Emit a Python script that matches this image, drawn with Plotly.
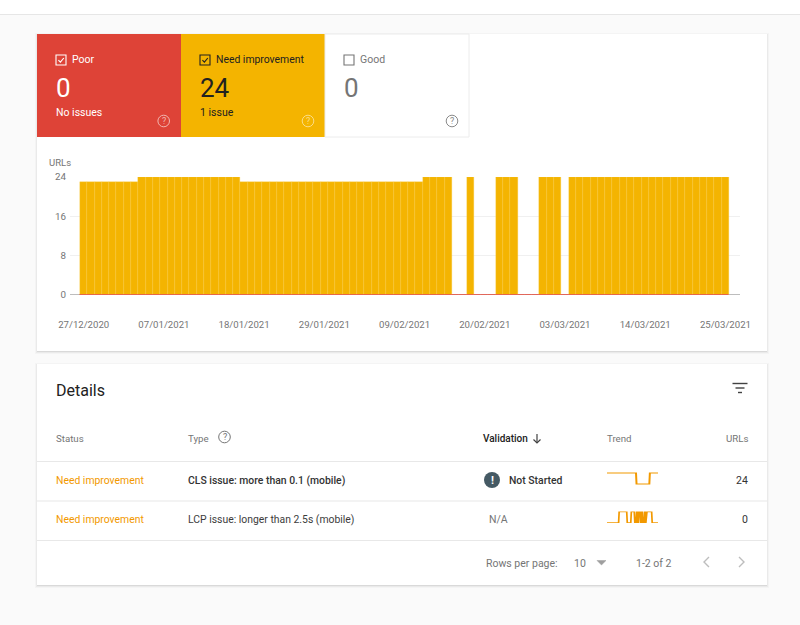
import pandas as pd
import plotly.graph_objects as go

W, H = 800, 625
dates = pd.date_range("2020-12-27", "2021-03-25", freq="D")
need_improvement = [
    23, 23, 23, 23, 23, 23, 23, 23,
    24, 24, 24, 24, 24, 24, 24, 24, 24, 24, 24, 24, 24, 24,
    23, 23, 23, 23, 23, 23, 23, 23, 23, 23, 23, 23, 23, 23, 23, 23, 23, 23, 23, 23, 23, 23, 23, 23, 23,
    24, 24, 24, 24,
    None, None,
    24,
    None, None, None,
    24, 24, 24,
    None, None, None,
    24, 24, 24,
    None,
    24, 24, 24, 24, 24, 24, 24, 24, 24, 24, 24, 24, 24, 24, 24, 24, 24, 24, 24, 24, 24, 24,
]
poor = [
    0, 0, 0, 0, 0, 0, 0, 0, 0, 0, 0, 0, 0, 0, 0, 0, 0, 0, 0, 0, 0, 0, 0, 0, 0, 0, 0, 0, 0, 0,
    0, 0, 0, 0, 0, 0, 0, 0, 0, 0, 0, 0, 0, 0, 0, 0, 0, 0, 0, 0, 0, 0, 0, 0, 0, 0, 0, 0, 0, 0,
    0, 0, 0, 0, 0, 0, 0, 0, 0, 0, 0, 0, 0, 0, 0, 0, 0, 0, 0, 0, 0, 0, 0, 0, 0, 0, 0, 0, 0,
]
annotation_dates = ["2021-02-17", "2021-03-15"]
annotation_counts = ["1", "1"]
annotation_level = [-2.25, -2.25]
y_ticks = [0, 8, 16, 24]
trend_cls = [
    1, 1, 1, 1, 1, 1, 1, 1, 1, 1, 1, 1, 1, 1, 1, 1, 1, 1, 1, 1, 1, 1, 1, 1, 1, 1, 1, 1, 1, 1,
    1, 1, 1, 1, 1, 1, 1, 1, 1, 1, 1, 1, 1, 1, 1, 1, 1, 1, 1, 1, 1,
    0, 0, 0, 0, 0, 0, 0, 0, 0, 0, 0, 0, 0, 0, 0, 0, 0, 0, 0, 0, 0, 0, 0,
    1, 1, 1, 1, 1, 1, 1, 1, 1, 1, 1, 1, 1, 1, 1,
]
trend_lcp = [
    0, 0, 0, 0, 0, 0, 0, 0, 0, 0, 0, 0, 0, 0, 0, 0, 0, 0, 0, 0, 0,
    1, 1, 1, 1, 1, 1, 1, 1, 1, 1, 1, 1, 1, 1,
    0, 0, 0, 0, 0, 0, 0,
    1, 1, 1, 1,
    1, 1, 0, 0, 0, 1, 1, 0, 0, 1, 1, 1, 0, 0, 1, 1, 0, 0, 0, 1, 1, 0, 1,
    1, 1, 1, 1, 1, 1, 1, 1, 1,
    0, 0, 0, 0, 0, 0, 0, 0, 0, 0, 0,
]

FONT = "Roboto"
GOLD = "#f4b400"
RED = "#de4337"
ORANGE = "#f29900"
GREY = "#757575"
DARK = "#212121"


def px(x):
    return x / W


def py(y):
    return 1 - y / H


shapes = []
annotations = []


def rect(x0, y0, x1, y1, fill="rgba(0,0,0,0)", line=None, lw=1, layer="below"):
    shapes.append(dict(type="rect", xref="paper", yref="paper", x0=px(x0), x1=px(x1), y0=py(y0), y1=py(y1),
                       fillcolor=fill, line=dict(color=line or "rgba(0,0,0,0)", width=lw if line else 0), layer=layer))


def circle(cx, cy, r, fill="rgba(0,0,0,0)", line=None, lw=1):
    shapes.append(dict(type="circle", xref="paper", yref="paper", x0=px(cx - r), x1=px(cx + r), y0=py(cy - r), y1=py(cy + r),
                       fillcolor=fill, line=dict(color=line or "rgba(0,0,0,0)", width=lw if line else 0), layer="above"))


def poly(points, color, lw=1.2, fill=None):
    d = "M" + " L".join(f"{px(a):.5f},{py(b):.5f}" for a, b in points)
    if fill:
        d += " Z"
    shapes.append(dict(type="path", xref="paper", yref="paper", path=d, line=dict(color=color, width=lw),
                       fillcolor=fill or "rgba(0,0,0,0)", layer="above"))


def text(x, y, s, size=11, color=DARK, anchor="left", weight=None):
    annotations.append(dict(xref="paper", yref="paper", x=px(x), y=py(y), text=s, showarrow=False, xanchor=anchor,
                            yanchor="middle", font=dict(family=FONT, size=size, color=color, weight=weight or 400),
                            borderpad=0, borderwidth=0))


def card(x0, y0, x1, y1):
    for off, alpha in ((3, 0.025), (2, 0.04), (1, 0.07)):
        rect(x0 - off + 1, y0 - off + 2, x1 + off - 1, y1 + off, "rgba(0,0,0,%s)" % alpha)
    rect(x0, y0, x1, y1, "#ffffff")


def help_icon(cx, cy, color):
    circle(cx, cy, 5.8, line=color, lw=1)
    text(cx, cy, "?", 9, color, "center")


def checkbox(x, y, color, checked):
    rect(x, y, x + 10, y + 10, line=color, lw=1.1, layer="above")
    if checked:
        poly([(x + 2.4, y + 5.2), (x + 4.4, y + 7.2), (x + 7.8, y + 3)], color, 1.1)


# page chrome
rect(0, 0, 800, 14, "#ffffff")
rect(0, 14, 800, 15, "#e6e6e6")

# cards
card(37, 34, 767, 351)
card(37, 364, 767, 585)

# status tiles
rect(37, 34, 181, 137, RED)
rect(181, 34, 325, 137, GOLD)
rect(325, 34, 469, 137, "#ffffff", line="#ececec")
checkbox(56, 55, "#ffffff", True)
checkbox(200, 55, DARK, True)
checkbox(344, 55, "#757575", False)
text(71.5, 60, "Poor", 10.5, "#ffffff")
text(215.5, 60, "Need improvement", 10.4, DARK)
text(360, 60, "Good", 10.5, GREY)
text(56, 88.5, "0", 26, "#ffffff")
text(200, 88.5, "24", 26, DARK)
text(344, 88.5, "0", 26, GREY)
text(56, 112, "No issues", 10.5, "#ffffff")
text(200, 112, "1 issue", 10.5, DARK)
help_icon(163.7, 121, "#f2b5af")
help_icon(308, 121, "#fbdc85")
help_icon(452, 121, "#8a8a8a")

text(49, 162.5, "URLs", 9.5, GREY)

# details card
text(56, 390, "Details", 16, DARK)
for yy, w in ((383.5, 15), (388, 9), (392.5, 4)):
    rect(740 - w / 2, yy - 0.7, 740 + w / 2, yy + 0.7, "#424242", layer="above")
text(56, 438.5, "Status", 9.7, GREY)
text(188, 438.5, "Type", 9.7, GREY)
help_icon(224.5, 437, "#757575")
text(483, 438.5, "Validation", 10, DARK, weight=500)
poly([(537, 434), (537, 443)], "#424242", 1.2)
poly([(533.5, 439.5), (537, 443), (540.5, 439.5)], "#424242", 1.2)
text(607, 438.5, "Trend", 9.7, GREY)
text(748, 438.5, "URLs", 9.7, GREY, "right")
for yy in (461, 500.5, 540):
    rect(37, yy, 767, yy + 1, "#e8e8e8")
text(56, 480.5, "Need improvement", 10.4, ORANGE)
text(56, 519.5, "Need improvement", 10.4, ORANGE)
text(188, 480.5, "CLS issue: more than 0.1 (mobile)", 10.4, "#333333", weight=500)
text(188, 519.5, "LCP issue: longer than 2.5s (mobile)", 10.4, "#3c3c3c")
circle(492, 480, 8, fill="#455a64")
text(492, 480, "!", 11, "#ffffff", "center", weight=700)
text(508.5, 480.5, "Not Started", 10.4, "#333333", weight=500)
text(489, 519.5, "N/A", 10.5, GREY)
text(748, 480.5, "24", 10.5, "#333333", "right")
text(748, 519.5, "0", 10.5, "#333333", "right")
text(486, 563, "Rows per page:", 10.5, GREY)
text(573.5, 563, "10", 10.5, GREY)
poly([(597, 560.5), (606, 560.5), (601.5, 565)], "#9e9e9e", 0.5, fill="#9e9e9e")
text(636, 563, "1-2 of 2", 10.5, GREY)
poly([(709, 557), (704, 562), (709, 567)], "#bdbdbd", 1.4)
poly([(739, 557), (744, 562), (739, 567)], "#bdbdbd", 1.4)

fig = go.Figure()
fig.add_bar(x=dates, y=need_improvement,
            marker=dict(color="rgba(244,180,0,0.995)", line=dict(width=0.4, color="rgba(250,205,70,0.8)")),
            name="Need improvement")
fig.add_bar(x=dates, y=poor, marker=dict(color=RED, line=dict(color="#ee4b3a", width=1)), width=86400000, name="Poor")
fig.add_scatter(x=annotation_dates, y=annotation_level, mode="markers+text", text=annotation_counts,
                textposition="middle center", textfont=dict(family=FONT, size=9, color="#ffffff"),
                marker=dict(size=14.5, color="#9e9e9e"), cliponaxis=False, name="Annotations")
fig.add_scatter(x=dates, y=trend_cls, xaxis="x2", yaxis="y2", mode="lines", line=dict(color=ORANGE, width=2), name="CLS")
fig.add_scatter(x=dates, y=trend_lcp, xaxis="x3", yaxis="y3", mode="lines", line=dict(color=ORANGE, width=1.7), name="LCP")

span = [dates[0] - pd.Timedelta(hours=45), dates[-1] + pd.Timedelta(hours=48)]
fig.update_layout(
    width=W, height=H, margin=dict(l=0, r=0, t=0, b=0, pad=0, autoexpand=False), autosize=False,
    paper_bgcolor="#fafafa", plot_bgcolor="rgba(0,0,0,0)", showlegend=False,
    barmode="overlay", bargap=0, font=dict(family=FONT),
    shapes=shapes, annotations=annotations,
    xaxis=dict(domain=[px(70), px(740)], range=span, type="date", tick0="2020-12-27", dtick=11 * 86400000,
               tickformat="%d/%m/%Y", showgrid=False, zeroline=False, showline=False, ticks="",
               tickfont=dict(family=FONT, size=9.6, color=GREY), ticklabelstandoff=23, anchor="y"),
    yaxis=dict(domain=[py(294.5), py(177)], range=[0, 24], tickvals=y_ticks, showgrid=True, gridcolor="#f0f0f0",
               gridwidth=1, zeroline=True, zerolinecolor="#bdbdbd", zerolinewidth=1, showline=False, ticks="",
               tickfont=dict(family=FONT, size=9.8, color=GREY), ticklabelstandoff=3, anchor="x"),
    xaxis2=dict(domain=[px(607), px(658)], range=[dates[0], dates[-1]], visible=False, anchor="y2"),
    yaxis2=dict(domain=[py(484.5), py(472.5)], range=[0, 1], visible=False, anchor="x2"),
    xaxis3=dict(domain=[px(607), px(658)], range=[dates[0], dates[-1]], visible=False, anchor="y3"),
    yaxis3=dict(domain=[py(523), py(511.5)], range=[0, 1], visible=False, anchor="x3"),
)
fig.update_traces(cliponaxis=False, selector=dict(type="scatter"))
fig.write_html("out.html", post_script="document.body.style.margin='0';document.body.style.overflow='hidden';",
               config=dict(displayModeBar=False))
